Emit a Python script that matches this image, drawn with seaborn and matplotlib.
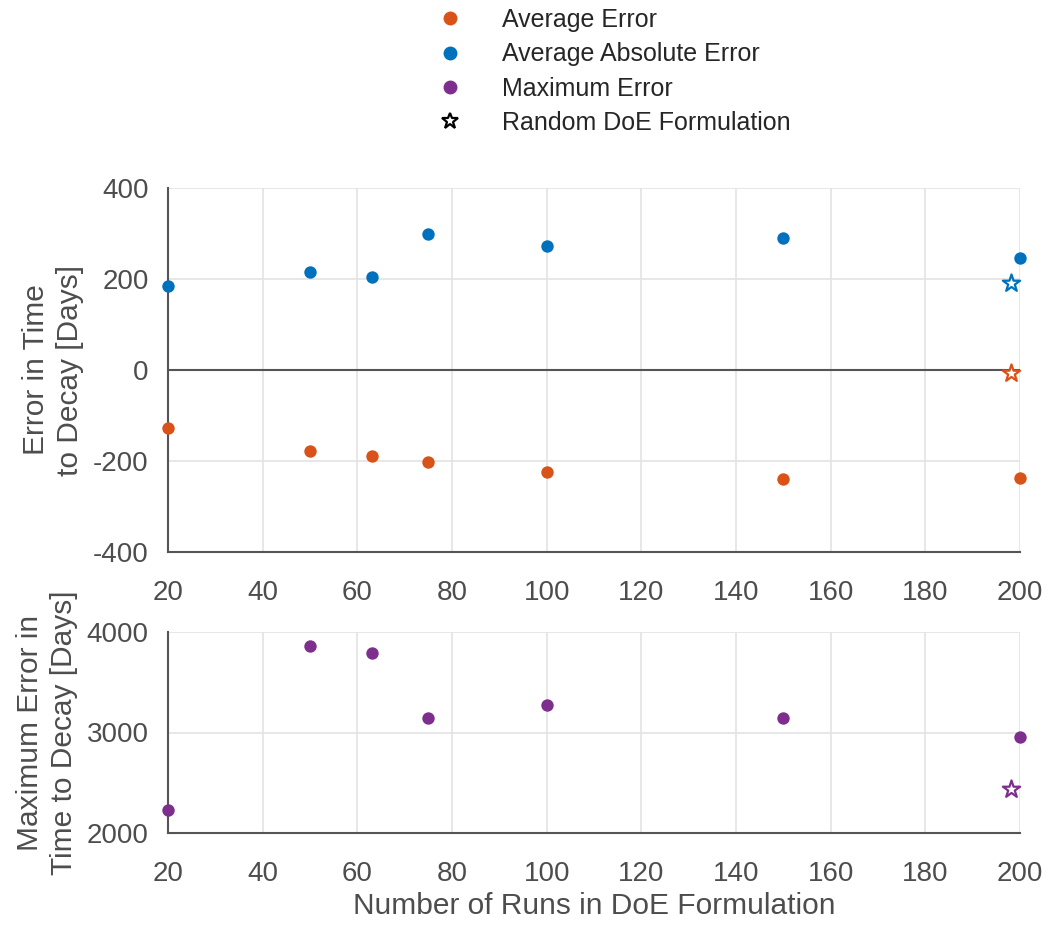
import matplotlib
matplotlib.use("Agg")
import matplotlib.pyplot as plt
from matplotlib.lines import Line2D
import numpy as np
import pandas as pd
import seaborn as sns

# Number of runs in each DoE formulation
runs = [20, 50, 63, 75, 100, 150, 200]
avg_error = [-127, -178, -189, -202, -224, -240, -237]
avg_abs_error = [185, 215, 205, 299, 273, 290, 246]
max_error = [2229, 3860, 3790, 3144, 3274, 3144, 2955]

# Random DoE formulation results
random_runs = [198]
random_avg_error = [-7]
random_avg_abs_error = [191]
random_max_error = [2438]

C_AVG = "#D95319"
C_ABS = "#0072BD"
C_MAX = "#7E2F8E"
AX_COL = "#555555"
TXT_COL = "#4D4D4D"

sns.set_style("white")
plt.rcParams["font.family"] = ["Liberation Sans", "DejaVu Sans"]
plt.rcParams["axes.unicode_minus"] = False

fig = plt.figure(figsize=(10.48, 9.27), dpi=100)
W, H = 1048, 927
ax1 = fig.add_axes([168 / W, 1 - 552 / H, (1020 - 168) / W, (552 - 188) / H])
ax2 = fig.add_axes([168 / W, 1 - 833 / H, (1020 - 168) / W, (833 - 632) / H])

df = pd.DataFrame({"runs": runs, "avg": avg_error, "abs": avg_abs_error, "max": max_error})
rdf = pd.DataFrame({"runs": random_runs, "avg": random_avg_error,
                    "abs": random_avg_abs_error, "max": random_max_error})

dot = dict(s=80, linewidth=0, clip_on=False, zorder=5)
star = dict(marker="*", s=170, facecolor="white", linewidth=1.6, clip_on=False, zorder=5)

sns.scatterplot(data=df, x="runs", y="avg", color=C_AVG, ax=ax1, **dot)
sns.scatterplot(data=df, x="runs", y="abs", color=C_ABS, ax=ax1, **dot)
sns.scatterplot(data=rdf, x="runs", y="avg", edgecolor=C_AVG, ax=ax1, **star)
sns.scatterplot(data=rdf, x="runs", y="abs", edgecolor=C_ABS, ax=ax1, **star)
ax1.axhline(0, color=AX_COL, lw=1.5, zorder=3)

sns.scatterplot(data=df, x="runs", y="max", color=C_MAX, ax=ax2, **dot)
sns.scatterplot(data=rdf, x="runs", y="max", edgecolor=C_MAX, ax=ax2, **star)

for ax in (ax1, ax2):
    ax.set_xlim(20, 200)
    ax.set_xticks(np.arange(20, 201, 20))
    ax.grid(True, color="#E3E3E3", lw=1.2)
    ax.set_axisbelow(True)
    for side in ("top", "right"):
        ax.spines[side].set_visible(False)
    for side in ("left", "bottom"):
        ax.spines[side].set_color(AX_COL)
        ax.spines[side].set_linewidth(1.5)
    ax.tick_params(axis="both", direction="out", length=6, width=1.5,
                   color=AX_COL, labelcolor=TXT_COL, labelsize=20)
    ax.tick_params(axis="x", pad=14)
    ax.tick_params(axis="y", pad=8)
    ax.set_xlabel("")

ax1.set_ylim(-400, 400)
ax1.set_yticks([-400, -200, 0, 200, 400])
ax1.set_ylabel("Error in Time\nto Decay [Days]", fontsize=21.5, color=TXT_COL,
               labelpad=6, linespacing=1.3)

ax2.set_ylim(2000, 4000)
ax2.set_yticks([2000, 3000, 4000])
ax2.set_ylabel("Maximum Error in\nTime to Decay [Days]", fontsize=21.5, color=TXT_COL,
               labelpad=6, linespacing=1.3)
ax2.set_xlabel("Number of Runs in DoE Formulation", fontsize=21.5, color=TXT_COL, labelpad=4)

handles = [
    Line2D([], [], ls="none", marker="o", ms=9, mfc=C_AVG, mec=C_AVG),
    Line2D([], [], ls="none", marker="o", ms=9, mfc=C_ABS, mec=C_ABS),
    Line2D([], [], ls="none", marker="o", ms=9, mfc=C_MAX, mec=C_MAX),
    Line2D([], [], ls="none", marker="*", ms=12, mfc="white", mec="black", mew=1.6),
]
labels = ["Average Error", "Average Absolute Error", "Maximum Error", "Random DoE Formulation"]
fig.legend(handles, labels, loc="upper left", bbox_to_anchor=(437 / W, 1 - 8 / H),
           frameon=False, fontsize=18, handletextpad=1.6, labelspacing=0.41,
           handlelength=1.0, borderpad=0, borderaxespad=0)

fig.savefig("out.png", dpi=100, facecolor="white")
